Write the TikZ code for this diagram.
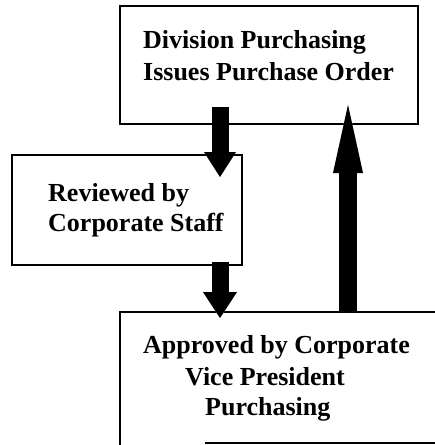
\documentclass[tikz,border=0pt]{standalone}
\usepackage{fontspec}
\setmainfont{Liberation Serif}
\usepackage{tikz}
\usetikzlibrary{arrows.meta}

\tikzset{
  box/.style={line width=1.5pt},
  txt/.style={anchor=base west, inner sep=0pt, font=\bfseries\fontsize{26}{32}\selectfont},
  shadowed/.style={black!25, xshift=3pt, yshift=-3pt},
}

\begin{document}
\begin{tikzpicture}[x=1pt,y=-1pt]
  \useasboundingbox (0,0) rectangle (435,445);
  \clip (0,0) rectangle (435,445);

  % Boxes
  \draw[box] (120,6) rectangle (418,124);
  \draw[box] (12,155) rectangle (242,265);
  \draw[box] (440,312) -- (120,312) -- (120,450);
  \draw[line width=2pt] (205,443) -- (440,443);

  % Texts
  \node[txt] (div1) at (143,48) {Division Purchasing};
  \node[txt] (div2) at (143,80) {Issues Purchase Order};
  \node[txt] (rev1) at (48,201) {Reviewed by};
  \node[txt] (rev2) at (48,231) {Corporate Staff};
  \node[txt] (app1) at (143,353) {Approved by Corporate};
  \node[txt] (app2) at (185,385) {Vice President};
  \node[txt] (app3) at (205,415) {Purchasing};

  % Arrow ends
  \coordinate (down1a) at (220,107);
  \coordinate (down1b) at (220,177);
  \coordinate (down2a) at (220,262);
  \coordinate (down2b) at (220,318);
  \coordinate (upa) at (348,311);
  \coordinate (upb) at (348,105);

  % Shadows
  \draw[shadowed, line width=17pt, -{Triangle[width=32pt,length=25pt,line width=0pt]}] (down1a) -- (down1b);
  \draw[shadowed, line width=17pt, -{Triangle[width=34pt,length=26pt,line width=0pt]}] (down2a) -- (down2b);
  \draw[shadowed, line width=18pt, -{Triangle[width=30pt,length=68pt,line width=0pt]}] (upa) -- (upb);

  % Arrows
  \draw[line width=17pt, -{Triangle[width=32pt,length=25pt,line width=0pt]}] (down1a) -- (down1b);
  \draw[line width=17pt, -{Triangle[width=34pt,length=26pt,line width=0pt]}] (down2a) -- (down2b);
  \draw[line width=18pt, -{Triangle[width=30pt,length=68pt,line width=0pt]}] (upa) -- (upb);
\end{tikzpicture}
\end{document}
